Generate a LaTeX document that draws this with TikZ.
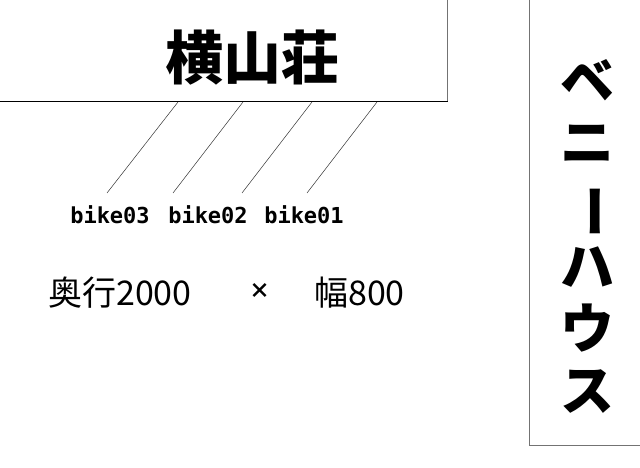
\documentclass[tikz,border=0pt]{standalone}
\usepackage{fontspec}
\newfontfamily\jp{Noto Sans CJK JP}
\newfontfamily\mono{DejaVu Sans Mono}
\begin{document}
\begin{tikzpicture}[x=1pt,y=-1pt,
  boxline/.style={draw=black!55, line width=1pt},
  stroke/.style={draw=black!80, line width=0.5pt},
  title/.style={font=\jp\bfseries\fontsize{58}{62}\selectfont, inner sep=0pt},
  bikelabel/.style={font=\mono\bfseries\fontsize{22}{24}\selectfont, inner sep=0pt, anchor=base},
  dim/.style={font=\jp\fontsize{34}{38}\selectfont, inner sep=0pt, anchor=base}]
\useasboundingbox (0,0) rectangle (640,468);
% top building
\draw[boxline] (447.5,-5) -- (447.5,101.5);
\draw[draw=black, line width=1pt] (-5,101.5) -- (447.5,101.5);
\node[title] (yoko) at (252,58) {横山荘};
% right building
\draw[boxline] (660,445) -- (529,445) -- (529,-5);
\node[title, align=center, font=\jp\bfseries\fontsize{54}{62}\selectfont] (benny) at (587,236)
  {ベ\\ニ\\\rotatebox[origin=c]{-90}{ー}\\ハ\\ウ\\ス};
% bike stall lines
\coordinate (t1) at (178,102); \coordinate (b1) at (107,193);
\coordinate (t2) at (243,102); \coordinate (b2) at (173,193);
\coordinate (t3) at (312,102); \coordinate (b3) at (242,193);
\coordinate (t4) at (377,102); \coordinate (b4) at (307,193);
\draw[stroke] (t1) -- (b1);
\draw[stroke] (t2) -- (b2);
\draw[stroke] (t3) -- (b3);
\draw[stroke] (t4) -- (b4);
% labels
\node[bikelabel] (bk3) at (110,223) {bike03};
\node[bikelabel] (bk2) at (208,223) {bike02};
\node[bikelabel] (bk1) at (304,223) {bike01};
\node[dim, anchor=base west] (depth) at (48,305) {奥行2000};
\node[inner sep=0pt, font=\jp\bfseries\fontsize{21}{24}\selectfont] (times) at (260,291) {×};
\node[dim, anchor=base east] (width) at (405,305) {幅800};
\end{tikzpicture}
\end{document}
